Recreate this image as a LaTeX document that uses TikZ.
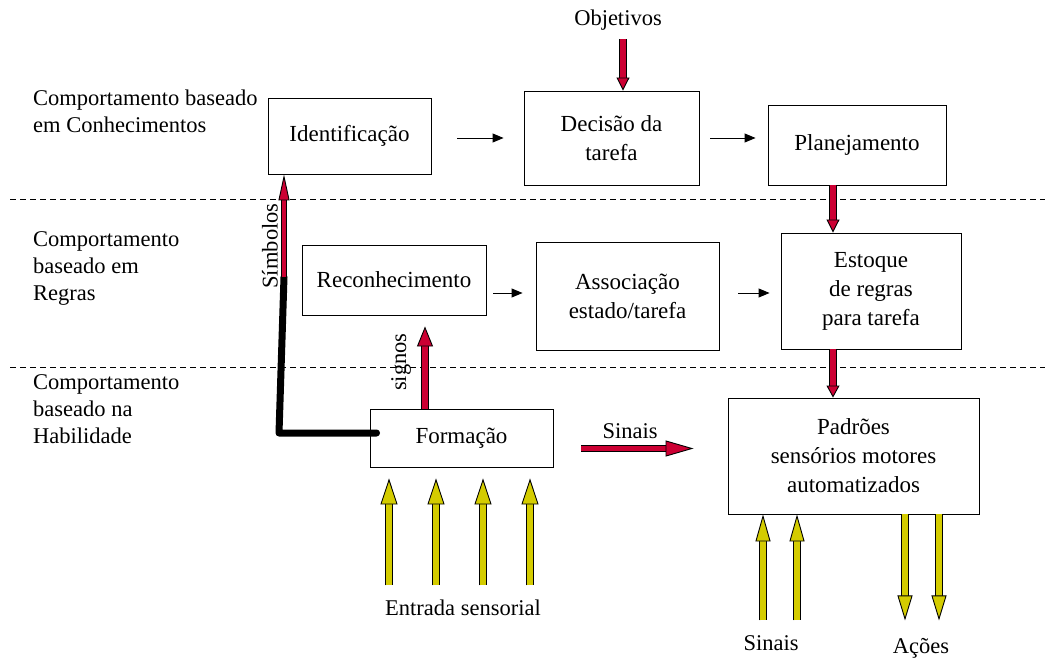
\documentclass[tikz,border=0pt]{standalone}
\usepackage{fontspec}
\setmainfont{Liberation Serif}
\usetikzlibrary{arrows.meta,calc}

\definecolor{vermelho}{RGB}{204,0,51}
\definecolor{amarelo}{RGB}{212,204,0}

\tikzset{
  caixa/.style={draw, line width=0.9pt, align=center, inner sep=0pt, font=\fontsize{23}{29}\selectfont},
  nivel/.style={anchor=west, align=left, inner sep=0pt, font=\fontsize{22.5}{27}\selectfont},
  rotulo/.style={inner sep=0pt, font=\fontsize{22.5}{27}\selectfont},
  seta/.style={line width=0.9pt, -{Triangle[length=11pt,width=9pt]}},
  % cor, comprimento e largura da ponta
  bloco/.style n args={3}{line width=5.6pt, draw=#1,
    -{Triangle[length=#2,width=#3,line width=0.9pt,fill=#1,color=black]},
    preaction={draw=black, line width=7.4pt, arrows=-, shorten >=#2-2pt}},
  bloco fino/.style={line width=3.6pt, draw=#1,
    -{Triangle[length=26pt,width=11pt,line width=0.9pt,fill=#1,color=black]},
    preaction={draw=black, line width=5.4pt, arrows=-, shorten >=24pt}},
  tracejado/.style={dash pattern=on 6pt off 4pt, line width=0.9pt}
}

\begin{document}
\begin{tikzpicture}[x=1pt, y=-1pt]
\useasboundingbox (0,0) rectangle (1052,660);

% niveis de comportamento
\node[nivel] (conh) at (33,111) {Comportamento baseado\\em Conhecimentos};
\node[nivel] (regr) at (33,268) {Comportamento\\baseado em\\Regras};
\node[nivel] (habi) at (33,409) {Comportamento\\baseado na\\Habilidade};

\draw[tracejado] (10,199) -- (1045,199);
\draw[tracejado] (10,367) -- (1045,367);

% caixas
\node[caixa, minimum width=163pt, minimum height=76pt] (ident) at (349.5,136) {Identificação};
\node[caixa, minimum width=175pt, minimum height=94pt] (dec) at (611.5,138) {Decisão da\\tarefa};
\node[caixa, minimum width=178pt, minimum height=80pt] (plan) at (857,145) {Planejamento};
\node[caixa, minimum width=184pt, minimum height=70pt] (rec) at (394,280) {Reconhecimento};
\node[caixa, minimum width=183pt, minimum height=108pt] (assoc) at (627.5,296) {Associação\\estado/tarefa};
\node[caixa, minimum width=180pt, minimum height=116pt] (est) at (871,291) {Estoque\\de regras\\para tarefa};
\node[caixa, minimum width=183pt, minimum height=58pt] (form) at (461.5,438) {Formação};
\node[caixa, minimum width=251pt, minimum height=116pt] (pad) at (853.5,456) {Padrões\\sensórios motores\\automatizados};

% rotulos
\node[rotulo] (obj) at (618,20) {Objetivos};
\node[rotulo] (ent) at (463,608) {Entrada sensorial};
\node[rotulo] (sin) at (771,643) {Sinais};
\node[rotulo] (aco) at (921,648) {Ações};
\node[rotulo] (sinf) at (630,431) {Sinais};
\node[rotulo, rotate=90] (simb) at (270,246) {Símbolos};
\node[rotulo, rotate=90] (sig) at (401,362) {signos};

% setas finas
\draw[seta] ($(ident.east |- dec.west)+(26,0)$) -- ($(dec.west)+(-20,0)$);
\draw[seta] ($(dec.east)+(11,0)$) -- ($(plan.west |- dec.east)+(-12,0)$);
\draw[seta] ($(rec.east |- assoc.west)+(7,-3)$) -- ($(assoc.west)+(-13,-3)$);
\draw[seta] ($(assoc.east)+(19,-3)$) -- ($(est.west |- assoc.east)+(-11,-3)$);

% setas vermelhas
\draw[bloco={vermelho}{13pt}{13pt}] ($(obj.south)+(5,9)$) -- ($(obj.south |- dec.north)+(5,0)$);
\draw[bloco={vermelho}{13pt}{13pt}] ($(plan.south)+(-24,0)$) -- ($(plan.south |- est.north)+(-24,0)$);
\draw[bloco={vermelho}{12pt}{13pt}] ($(est.south)+(-38,0)$) -- ($(est.south |- pad.north)+(-38,0)$);
\draw[bloco={vermelho}{20pt}{16pt}] ($(form.north)+(-36.5,0)$) -- ($(form.north |- rec.south)+(-36.5,11)$);
\draw[bloco={vermelho}{28pt}{16pt}] ($(form.east)+(28,10.5)$) -- ($(form.east -| pad.west)+(-34,10.5)$);

% caminho dos simbolos
\coordinate (canto) at (279,433);
\coordinate (simbbase) at (284,277);
\draw[line width=7pt, line cap=round, line join=round] ($(form.west)+(7,-5)$) -- (canto) -- (simbbase);
\draw[bloco fino=vermelho] (simbbase) -- (simbbase |- ident.south);

% setas amarelas
\foreach \dx in {-72.5,-25.5,21.5,68.5}
  \draw[bloco={amarelo}{26pt}{17pt}] ($(form.south)+(\dx,118)$) -- ($(form.south)+(\dx,11)$);
\foreach \dx in {-90.5,-56.5}
  \draw[bloco={amarelo}{27pt}{15pt}] ($(pad.south)+(\dx,106)$) -- ($(pad.south)+(\dx,0)$);
\foreach \dx in {51.5,85.5}
  \draw[bloco={amarelo}{25pt}{15pt}] ($(pad.south)+(\dx,0)$) -- ($(pad.south)+(\dx,106)$);
\end{tikzpicture}
\end{document}
